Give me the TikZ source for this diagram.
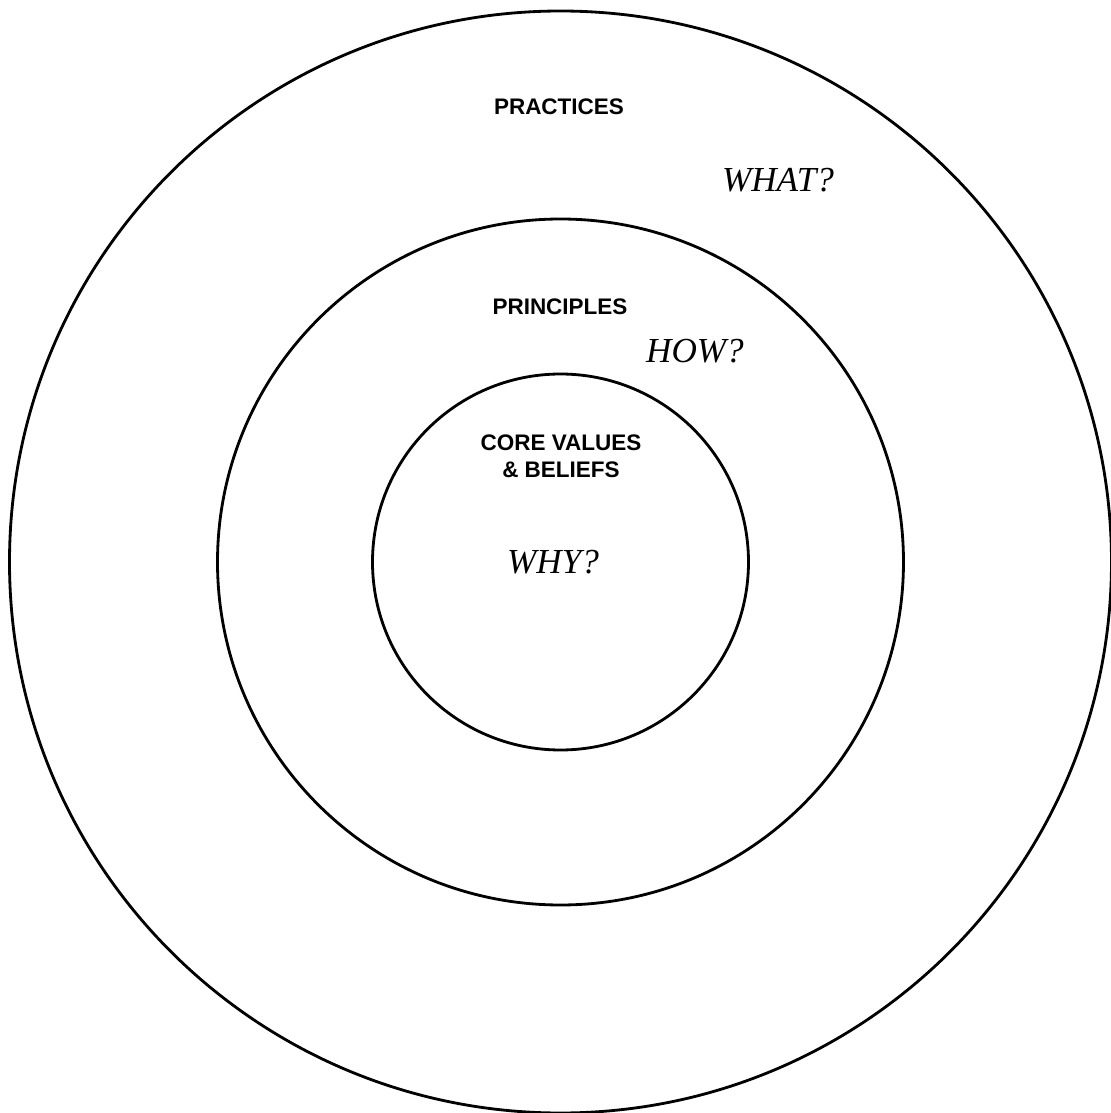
\documentclass[tikz,border=0pt]{standalone}
\usepackage{fontspec}
\setmainfont{Liberation Serif}
\setsansfont{Liberation Sans}
\tikzset{
  ring/.style = {draw=black, line width=0.8pt},
  tag/.style  = {font=\sffamily\bfseries\fontsize{6.4}{7.7}\selectfont,
                 align=center, inner sep=0pt},
  ask/.style  = {font=\itshape\fontsize{10}{12}\selectfont, inner sep=0pt}
}

\begin{document}
\begin{tikzpicture}
	\def \cx{5.605}
	\def \cy{5.51}
	\useasboundingbox (0,0) rectangle (11.10,11.13);
	
	% Rings
	\draw[ring] (\cx,\cy) circle (5.51); % practices
	\draw[ring] (\cx,\cy) circle (3.43); % principles
	\draw[ring] (\cx,\cy) circle (1.88); % core
	
	% Ring names
	\node[tag] (practices)  at (5.59,10.065) {PRACTICES};
	\node[tag] (principles) at (5.60,8.065)  {PRINCIPLES};
	\node[tag] (core)       at (5.61,6.565)  {CORE VALUES\\ \& BELIEFS};
	
	% Questions
	\node[ask] (what) at (7.78,9.33) {WHAT?};
	\node[ask] (how)  at (6.95,7.62) {HOW?};
	\node[ask] (why)  at (5.53,5.51) {WHY?};
	
\end{tikzpicture}
\end{document}
